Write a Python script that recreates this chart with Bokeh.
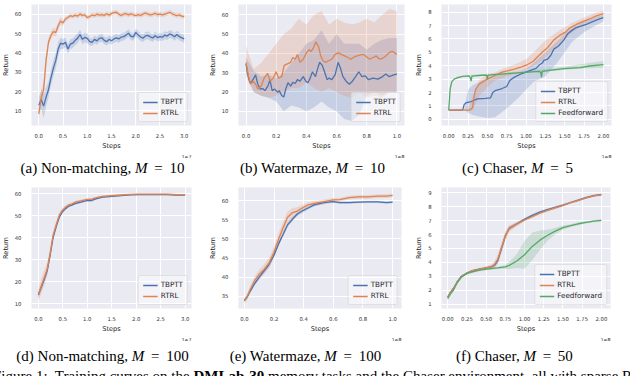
import numpy as np
from bokeh.plotting import figure
from bokeh.layouts import column, row
from bokeh.models import (Div, Legend, LegendItem, FixedTicker, PrintfTickFormatter,
                          Title, Range1d)
from bokeh.embed import file_html
from bokeh.resources import INLINE

# ---------------- data ----------------
# (a) Non-matching, M = 10   (steps in units of 1e7)
a_x = [0.00, 0.05, 0.10, 0.15, 0.20, 0.25, 0.30, 0.35, 0.40, 0.45,
       0.50, 0.55, 0.60, 0.65, 0.70, 0.75, 0.80, 0.85, 0.90, 0.95,
       1.00, 1.05, 1.10, 1.15, 1.20, 1.25, 1.30, 1.35, 1.40, 1.45,
       1.50, 1.55, 1.60, 1.65, 1.70, 1.75, 1.80, 1.85, 1.90, 1.95,
       2.00, 2.05, 2.10, 2.15, 2.20, 2.25, 2.30, 2.35, 2.40, 2.45,
       2.50, 2.55, 2.60, 2.65, 2.70, 2.75, 2.80, 2.85, 2.90, 2.95, 3.00]
a_tbptt = [13.0, 16.0, 12.5, 17.0, 21.0, 27.0, 32.0, 36.0, 42.0, 45.0,
           44.5, 45.5, 42.0, 44.5, 45.0, 46.5, 47.5, 49.5, 47.0, 48.0,
           47.5, 45.8, 45.5, 47.0, 46.2, 47.5, 47.8, 46.5, 45.8, 47.0,
           46.3, 47.2, 47.8, 47.2, 48.2, 48.4, 49.2, 50.2, 48.6, 48.3,
           50.5, 49.3, 48.2, 47.6, 48.8, 49.1, 48.3, 47.7, 48.9, 47.9,
           48.4, 48.1, 49.2, 48.7, 49.8, 49.3, 48.3, 49.5, 48.4, 47.8, 47.2]
a_tbptt_sd = [4.0, 5.0, 6.0, 5.0, 4.0, 4.0, 4.0, 4.0, 3.5, 3.0,
              2.5, 2.5, 2.5, 2.5, 2.5, 2.5, 2.5, 2.5, 2.5, 2.5,
              2.5, 2.0, 2.0, 2.0, 2.0, 2.0, 2.0, 2.0, 2.0, 2.0,
              2.0, 2.0, 2.0, 2.0, 2.0, 2.0, 2.0, 2.0, 2.0, 2.0,
              2.0, 2.0, 2.0, 2.0, 2.0, 2.0, 2.0, 2.0, 2.0, 2.0,
              2.0, 2.0, 2.0, 2.0, 2.0, 2.0, 2.0, 2.0, 2.0, 2.0, 2.0]
a_rtrl = [8.5, 17.0, 21.0, 36.0, 45.5, 49.0, 51.0, 50.5, 54.0, 56.5,
          55.5, 57.5, 58.3, 59.2, 58.8, 59.5, 59.0, 60.0, 59.4, 59.6,
          58.2, 58.8, 59.6, 59.2, 60.0, 59.5, 59.8, 59.4, 60.2, 59.5,
          60.4, 60.8, 61.0, 60.0, 59.3, 60.0, 60.3, 59.6, 60.2, 59.7,
          59.3, 59.8, 59.4, 60.0, 60.5, 60.0, 59.6, 59.9, 60.4, 59.8,
          60.0, 59.6, 60.0, 60.4, 61.0, 60.2, 59.7, 59.3, 59.6, 59.0, 58.8]
a_rtrl_sd = [3.0, 4.0, 4.0, 3.0, 2.0, 2.0, 2.0, 2.0, 2.0, 2.0,
             1.5, 1.2, 1.2, 1.2, 1.2, 1.2, 1.2, 1.2, 1.2, 1.2,
             1.2, 1.2, 1.2, 1.2, 1.2, 1.2, 1.2, 1.2, 1.2, 1.2,
             1.2, 1.2, 1.2, 1.2, 1.2, 1.2, 1.2, 1.2, 1.2, 1.2,
             1.2, 1.2, 1.2, 1.2, 1.2, 1.2, 1.2, 1.2, 1.2, 1.2,
             1.2, 1.2, 1.2, 1.2, 1.2, 1.2, 1.2, 1.2, 1.2, 1.2, 1.2]

# (b) Watermaze, M = 10   (steps in units of 1e8)
b_tbptt_x = [0.0, 0.01, 0.025, 0.04, 0.057, 0.063, 0.078, 0.095, 0.11, 0.126,
             0.147, 0.158, 0.173, 0.19, 0.21, 0.22, 0.236, 0.25, 0.263, 0.278,
             0.295, 0.31, 0.326, 0.34, 0.358, 0.379, 0.396, 0.41, 0.425, 0.44,
             0.46, 0.474, 0.488, 0.505, 0.52, 0.537, 0.55, 0.568, 0.59, 0.61,
             0.627, 0.642, 0.663, 0.684, 0.705, 0.726, 0.747, 0.768, 0.79, 0.81,
             0.842, 0.874, 0.905, 0.926, 0.947, 0.979, 1.0]
b_tbptt = [34.6, 29.7, 24.8, 25.6, 28.0, 28.9, 24.0, 21.5, 21.8, 20.7,
           23.4, 26.4, 20.7, 21.5, 19.8, 20.7, 18.2, 17.4, 21.5, 24.8,
           23.0, 25.0, 24.4, 26.4, 25.6, 28.0, 25.6, 24.8, 27.2, 30.5,
           28.0, 32.0, 35.4, 33.8, 30.5, 26.4, 27.2, 26.4, 28.9, 35.4,
           32.0, 28.0, 25.6, 24.0, 25.6, 28.0, 30.5, 28.0, 28.4, 26.4,
           27.2, 26.7, 28.0, 29.3, 28.0, 28.9, 29.3]
b_rtrl_x = [0.0, 0.017, 0.03, 0.046, 0.063, 0.08, 0.1, 0.12, 0.143, 0.16,
            0.18, 0.2, 0.215, 0.236, 0.253, 0.274, 0.295, 0.31, 0.326, 0.34,
            0.358, 0.379, 0.4, 0.417, 0.43, 0.446, 0.463, 0.48, 0.495, 0.51,
            0.526, 0.547, 0.568, 0.59, 0.61, 0.632, 0.653, 0.674, 0.695, 0.716,
            0.737, 0.758, 0.779, 0.8, 0.82, 0.842, 0.863, 0.884, 0.905, 0.926,
            0.947, 0.968, 1.0]
b_rtrl = [35.4, 28.0, 24.0, 25.6, 24.0, 21.5, 23.0, 27.2, 29.7, 25.6,
          27.2, 30.5, 27.2, 28.0, 33.8, 34.6, 35.4, 37.9, 37.0, 39.5,
          35.4, 37.0, 40.3, 42.0, 41.0, 42.8, 46.0, 43.6, 38.7, 36.2,
          35.4, 36.2, 37.0, 39.5, 40.3, 39.5, 38.7, 37.9, 37.0, 38.2,
          38.7, 39.2, 39.5, 38.2, 37.0, 37.9, 38.7, 37.0, 37.5, 38.7,
          40.3, 41.1, 39.5]
b_band_x = [0.0, 0.05, 0.1, 0.15, 0.2, 0.25, 0.3, 0.35, 0.4, 0.45, 0.5,
            0.55, 0.6, 0.65, 0.7, 0.75, 0.8, 0.85, 0.9, 0.95, 1.0]
b_tbptt_lo = [30, 20, 18, 17, 15, 10, 13, 12, 10, 12, 15, 12, 10, 6, 5, 8, 18, 20, 18, 20, 20]
b_tbptt_hi = [38, 31, 28, 29, 27, 30, 35, 40, 45, 47, 52, 45, 50, 45, 45, 45, 42, 45, 47, 48, 48]
b_rtrl_lo = [28, 20, 18, 17, 18, 20, 22, 22, 25, 22, 20, 22, 20, 18, 17, 20, 17, 18, 17, 20, 20]
b_rtrl_hi = [44, 32, 35, 40, 45, 50, 53, 58, 55, 60, 62, 55, 58, 56, 55, 56, 58, 56, 60, 63, 62]

# (c) Chaser, M = 5   (steps in units of 1e8)
c_tbptt_x = [0.0, 0.18, 0.2, 0.22, 0.29, 0.37, 0.48, 0.54, 0.57, 0.6,
             0.69, 0.75, 0.79, 0.85, 0.94, 1.04, 1.13, 1.17, 1.21, 1.23,
             1.28, 1.32, 1.36, 1.42, 1.49, 1.54, 1.59, 1.65, 1.72, 1.78,
             1.87, 1.95, 2.0]
c_tbptt = [0.69, 0.69, 1.1, 1.22, 1.33, 1.52, 1.56, 1.6, 2.0, 2.14,
           2.3, 2.45, 2.9, 3.15, 3.4, 3.62, 3.8, 4.05, 4.2, 4.4,
           4.5, 4.78, 5.24, 5.47, 5.93, 6.39, 6.62, 6.85, 6.97, 7.08,
           7.31, 7.49, 7.59]
c_rtrl_x = [0.0, 0.27, 0.31, 0.33, 0.35, 0.39, 0.43, 0.48, 0.52, 0.6,
            0.69, 0.77, 0.85, 0.94, 1.02, 1.09, 1.15, 1.21, 1.28, 1.36,
            1.44, 1.51, 1.57, 1.65, 1.74, 1.82, 1.91, 2.0]
c_rtrl = [0.69, 0.69, 0.87, 1.79, 2.25, 2.6, 2.76, 2.94, 3.06, 3.29,
          3.52, 3.63, 3.75, 3.91, 4.09, 4.32, 4.67, 5.01, 5.36, 5.93,
          6.28, 6.51, 6.85, 7.08, 7.31, 7.49, 7.72, 7.89]
c_ff_x = [0.0, 0.01, 0.02, 0.04, 0.07, 0.12, 0.18, 0.26, 0.28, 0.29,
          0.3, 0.43, 0.49, 0.5, 0.51, 0.64, 0.85, 1.07, 1.17, 1.19,
          1.2, 1.21, 1.28, 1.49, 1.7, 1.82, 2.0]
c_ff = [0.69, 1.5, 2.3, 2.8, 3.0, 3.12, 3.2, 3.24, 3.1, 2.85,
        3.22, 3.29, 3.3, 3.0, 3.3, 3.36, 3.45, 3.54, 3.58, 3.5,
        3.15, 3.58, 3.63, 3.79, 3.86, 3.98, 4.09]
c_band_x = [0.0, 0.2, 0.25, 0.3, 0.4, 0.5, 0.6, 0.75, 0.9, 1.0, 1.1,
            1.25, 1.4, 1.5, 1.6, 1.75, 1.9, 2.0]
c_tbptt_lo = [0.69, 0.69, 0.5, 0.35, 0.2, 0.1, 0.15, 0.8, 1.6, 2.2, 2.8,
              3.2, 4.2, 5.0, 5.8, 6.5, 7.0, 7.3]
c_tbptt_hi = [0.69, 0.75, 2.2, 2.5, 2.8, 3.1, 3.3, 3.4, 3.5, 3.8, 4.2,
              5.0, 5.8, 6.4, 6.9, 7.3, 7.6, 7.8]
c_rtrl_lo = [0.69, 0.69, 0.69, 0.6, 1.8, 2.4, 2.9, 3.2, 3.5, 3.7, 4.0,
             4.6, 5.5, 6.0, 6.5, 7.1, 7.5, 7.7]
c_rtrl_hi = [0.69, 0.69, 0.69, 1.5, 3.0, 3.3, 3.5, 3.9, 4.2, 4.5, 5.0,
             5.9, 6.5, 6.9, 7.2, 7.6, 7.95, 8.1]
c_ff_band_x = [0.1, 0.25, 0.5, 0.75, 1.0, 1.25, 1.5, 1.75, 2.0]
c_ff_lo = [3.1, 3.2, 3.25, 3.35, 3.45, 3.55, 3.7, 3.8, 3.85]
c_ff_hi = [3.2, 3.3, 3.4, 3.5, 3.6, 3.75, 3.95, 4.15, 4.35]

# (d) Non-matching, M = 100   (1e7)
d_x = [0.0, 0.05, 0.11, 0.18, 0.24, 0.3, 0.37, 0.43, 0.49, 0.56,
       0.62, 0.68, 0.75, 0.87, 1.0, 1.09, 1.19, 1.31, 1.5, 1.69,
       1.88, 2.07, 2.26, 2.45, 2.64, 2.83, 3.0]
d_tbptt = [14.0, 17.0, 20.5, 25.0, 32.0, 40.0, 45.5, 49.5, 51.8, 53.4,
           54.4, 54.9, 55.6, 56.3, 57.0, 57.0, 57.8, 58.5, 58.9, 59.2,
           59.6, 59.7, 59.7, 59.7, 59.7, 59.4, 59.4]
d_rtrl = [14.3, 17.5, 21.2, 25.7, 32.8, 41.0, 46.3, 50.4, 52.5, 54.0,
          54.9, 55.4, 56.2, 56.8, 57.5, 57.6, 58.3, 58.9, 59.2, 59.5,
          59.8, 59.9, 59.9, 59.9, 59.9, 59.6, 59.5]
d_tbptt_sd = [1.5, 1.5, 1.5, 1.5, 1.2, 1.0, 0.8, 0.8, 0.7, 0.6,
              0.6, 0.5, 0.5, 0.5, 0.5, 0.5, 0.4, 0.4, 0.4, 0.3,
              0.3, 0.3, 0.3, 0.3, 0.3, 0.3, 0.3]
d_rtrl_sd = [3.0, 3.5, 3.5, 3.0, 2.5, 2.0, 1.5, 1.2, 1.0, 1.0,
             0.8, 0.7, 0.6, 0.6, 0.5, 0.5, 0.5, 0.4, 0.4, 0.4,
             0.3, 0.3, 0.3, 0.3, 0.3, 0.3, 0.3]

# (e) Watermaze, M = 100   (1e8)
e_x = [0.0, 0.017, 0.038, 0.07, 0.1, 0.134, 0.166, 0.2, 0.23, 0.26,
       0.29, 0.325, 0.357, 0.39, 0.43, 0.47, 0.537, 0.6, 0.643, 0.707,
       0.77, 0.834, 0.9, 0.96, 1.0]
e_tbptt = [34.0, 34.7, 36.3, 38.4, 40.0, 41.7, 43.3, 45.8, 48.7, 51.1,
           53.6, 55.2, 56.5, 57.3, 58.1, 58.9, 59.5, 59.75, 59.5, 59.5,
           59.6, 59.7, 59.7, 59.5, 59.6]
e_rtrl = [33.8, 34.8, 36.7, 39.2, 40.8, 42.1, 43.7, 46.6, 49.9, 52.8,
          55.6, 56.9, 57.3, 58.1, 58.9, 59.3, 59.75, 60.2, 60.3, 60.8,
          61.0, 61.0, 61.2, 61.2, 61.4]
e_tbptt_sd = [0.6, 0.6, 0.6, 0.6, 0.6, 0.6, 0.6, 0.6, 0.6, 0.6,
              0.6, 0.6, 0.5, 0.5, 0.4, 0.4, 0.4, 0.3, 0.3, 0.3,
              0.3, 0.3, 0.3, 0.3, 0.3]
e_rtrl_sd = [0.6, 0.7, 0.9, 1.0, 1.2, 1.3, 1.4, 1.5, 1.6, 1.6,
             1.5, 1.2, 1.0, 0.8, 0.6, 0.6, 0.5, 0.5, 0.5, 0.5,
             0.5, 0.5, 0.5, 0.5, 0.5]

# (f) Chaser, M = 50   (1e8)
f_x = [0.0, 0.034, 0.077, 0.12, 0.18, 0.247, 0.31, 0.4, 0.48, 0.566,
       0.61, 0.65, 0.7, 0.75, 0.8, 0.9, 1.0, 1.1, 1.2, 1.3,
       1.4, 1.5, 1.6, 1.7, 1.8, 1.9, 2.0]
f_tbptt = [1.5, 1.82, 2.14, 2.57, 3.0, 3.21, 3.38, 3.49, 3.58, 3.68,
           3.8, 4.1, 5.0, 5.9, 6.45, 6.78, 7.1, 7.38, 7.62, 7.8,
           7.96, 8.12, 8.31, 8.48, 8.66, 8.8, 8.88]
f_rtrl = [1.5, 1.82, 2.14, 2.57, 3.0, 3.21, 3.38, 3.49, 3.58, 3.68,
          3.85, 4.2, 5.05, 5.9, 6.43, 6.75, 7.05, 7.3, 7.55, 7.74,
          7.92, 8.1, 8.3, 8.47, 8.64, 8.79, 8.88]
f_ff = [1.39, 1.71, 2.03, 2.5, 2.95, 3.2, 3.3, 3.42, 3.49, 3.55,
        3.58, 3.6, 3.64, 3.68, 3.78, 4.1, 4.55, 5.15, 5.6, 5.95,
        6.25, 6.5, 6.65, 6.78, 6.88, 6.97, 7.03]
f_tbptt_sd = [0.08, 0.08, 0.08, 0.08, 0.08, 0.08, 0.08, 0.08, 0.08, 0.1,
              0.15, 0.2, 0.2, 0.2, 0.15, 0.1, 0.1, 0.1, 0.1, 0.1,
              0.1, 0.08, 0.08, 0.08, 0.08, 0.08, 0.08]
f_rtrl_sd = [0.08, 0.08, 0.08, 0.08, 0.08, 0.08, 0.08, 0.08, 0.1, 0.15,
             0.25, 0.35, 0.4, 0.35, 0.25, 0.15, 0.1, 0.1, 0.1, 0.1,
             0.1, 0.08, 0.08, 0.08, 0.08, 0.08, 0.08]
f_ff_sd = [0.08, 0.08, 0.08, 0.08, 0.08, 0.08, 0.08, 0.08, 0.08, 0.08,
           0.08, 0.08, 0.1, 0.15, 0.25, 0.5, 1.0, 1.0, 0.7, 0.4,
           0.25, 0.15, 0.1, 0.1, 0.08, 0.08, 0.08]

captions = ["(a) Non-matching, <i>M</i>&thinsp; = &thinsp;10",
            "(b) Watermaze, <i>M</i>&thinsp; = &thinsp;10",
            "(c) Chaser, <i>M</i>&thinsp; = &thinsp;5",
            "(d) Non-matching, <i>M</i>&thinsp; = &thinsp;100",
            "(e) Watermaze, <i>M</i>&thinsp; = &thinsp;100",
            "(f) Chaser, <i>M</i>&thinsp; = &thinsp;50"]

# ---------------- styling helpers ----------------
BLUE, ORANGE, GREEN = "#4C72B0", "#DD8452", "#55A868"
TICK_FONT = "DejaVu Sans"


def make_fig(w, h, bl, br, bt, bb, xr, yr, xticks, yticks, xfmt, offset):
    p = figure(width=w, height=h, x_range=Range1d(*xr), y_range=Range1d(*yr),
               output_backend="svg", toolbar_location=None,
               min_border_left=bl, min_border_right=br,
               min_border_top=bt, min_border_bottom=bb)
    p.background_fill_color = "#EAEAF2"
    p.border_fill_color = "white"
    p.outline_line_color = None
    p.grid.grid_line_color = "white"
    p.grid.grid_line_width = 1
    p.xaxis.ticker = FixedTicker(ticks=xticks)
    p.yaxis.ticker = FixedTicker(ticks=yticks)
    p.xgrid.ticker = FixedTicker(ticks=xticks)
    p.ygrid.ticker = FixedTicker(ticks=yticks)
    p.xaxis.formatter = PrintfTickFormatter(format=xfmt)
    p.yaxis.formatter = PrintfTickFormatter(format="%d")
    for ax in (p.xaxis, p.yaxis):
        ax.axis_line_color = None
        ax.major_tick_line_color = None
        ax.minor_tick_line_color = None
        ax.major_label_text_font_size = "5.3px"
        ax.major_label_text_font = TICK_FONT
        ax.major_label_text_color = "#333333"
        ax.axis_label_text_font_size = "6.6px"
        ax.axis_label_text_font = TICK_FONT
        ax.axis_label_text_font_style = "normal"
        ax.axis_label_text_color = "#222222"
    p.xaxis.major_label_standoff = 2
    p.xaxis.axis_label_standoff = 1
    p.yaxis.major_label_standoff = 4
    p.yaxis.axis_label_standoff = 2
    p.xaxis.axis_label = "Steps"
    p.yaxis.axis_label = "Return"
    p.add_layout(Title(text=offset, align="right", text_font_size="5.3px",
                       text_font=TICK_FONT, text_font_style="normal",
                       text_color="#333333", standoff=0), "below")
    return p


def band(p, x, lo, hi, color):
    p.varea(x=x, y1=lo, y2=hi, fill_color=color, fill_alpha=0.22)


def add_legend(p, items):
    leg = Legend(items=[LegendItem(label=l, renderers=[r]) for l, r in items],
                 location="bottom_right")
    leg.label_text_font_size = "7.2px"
    leg.label_text_font = TICK_FONT
    leg.label_text_color = "#262626"
    leg.glyph_width = 15
    leg.glyph_height = 8
    leg.label_height = 8
    leg.label_standoff = 3
    leg.spacing = 2
    leg.padding = 4
    leg.margin = 3
    leg.border_line_color = "#cccccc"
    leg.border_line_width = 1
    leg.background_fill_color = "white"
    leg.background_fill_alpha = 0.45
    if "border_radius" in Legend.properties():
        leg.border_radius = 2
    p.add_layout(leg)


def sd_band(p, x, y, sd, color):
    y = np.array(y)
    sd = np.array(sd)
    band(p, x, y - sd, y + sd, color)


LW = 1.3
ticks_3 = [0, 0.5, 1.0, 1.5, 2.0, 2.5, 3.0]
ticks_1 = [0, 0.2, 0.4, 0.6, 0.8, 1.0]
ticks_2 = [0, 0.25, 0.5, 0.75, 1.0, 1.25, 1.5, 1.75, 2.0]

# (a)
pa = make_fig(207, 156, 21, 14, 2, 26, (-0.15, 3.15), (2.5, 65.0), ticks_3,
              [10, 20, 30, 40, 50, 60], "%.1f", "1e7")
sd_band(pa, a_x, a_tbptt, a_tbptt_sd, BLUE)
sd_band(pa, a_x, a_rtrl, a_rtrl_sd, ORANGE)
ra1 = pa.line(a_x, a_tbptt, line_color=BLUE, line_width=LW)
ra2 = pa.line(a_x, a_rtrl, line_color=ORANGE, line_width=LW)
add_legend(pa, [("TBPTT", ra1), ("RTRL", ra2)])

# (b)
pb = make_fig(207, 156, 26, 8, 2, 26, (-0.05, 1.05), (2.6, 65.4), ticks_1,
              [10, 20, 30, 40, 50, 60], "%.1f", "1e8")
band(pb, b_band_x, b_tbptt_lo, b_tbptt_hi, BLUE)
band(pb, b_band_x, b_rtrl_lo, b_rtrl_hi, ORANGE)
rb1 = pb.line(b_tbptt_x, b_tbptt, line_color=BLUE, line_width=LW)
rb2 = pb.line(b_rtrl_x, b_rtrl, line_color=ORANGE, line_width=LW)
add_legend(pb, [("TBPTT", rb1), ("RTRL", rb2)])

# (c)
pc = make_fig(207, 156, 25, 8, 0, 25, (-0.093, 2.105), (-0.46, 8.57), ticks_2,
              [0, 1, 2, 3, 4, 5, 6, 7, 8], "%.2f", "1e8")
band(pc, c_band_x, c_tbptt_lo, c_tbptt_hi, BLUE)
band(pc, c_band_x, c_rtrl_lo, c_rtrl_hi, ORANGE)
band(pc, c_ff_band_x, c_ff_lo, c_ff_hi, GREEN)
rc1 = pc.line(c_tbptt_x, c_tbptt, line_color=BLUE, line_width=LW)
rc2 = pc.line(c_rtrl_x, c_rtrl, line_color=ORANGE, line_width=LW)
rc3 = pc.line(c_ff_x, c_ff, line_color=GREEN, line_width=LW)
add_legend(pc, [("TBPTT", rc1), ("RTRL", rc2), ("Feedforward", rc3)])

# (d)
pd_ = make_fig(207, 161, 21, 14, 7, 26, (-0.14, 3.13), (7.9, 62.9), ticks_3,
               [10, 20, 30, 40, 50, 60], "%.1f", "1e7")
sd_band(pd_, d_x, d_tbptt, d_tbptt_sd, BLUE)
sd_band(pd_, d_x, d_rtrl, d_rtrl_sd, ORANGE)
rd1 = pd_.line(d_x, d_tbptt, line_color=BLUE, line_width=LW)
rd2 = pd_.line(d_x, d_rtrl, line_color=ORANGE, line_width=LW)
add_legend(pd_, [("TBPTT", rd1), ("RTRL", rd2)])

# (e)
pe = make_fig(207, 161, 23, 11, 7, 26, (-0.04, 1.06), (31.8, 63.45), ticks_1,
              [35, 40, 45, 50, 55, 60], "%.1f", "1e8")
sd_band(pe, e_x, e_tbptt, e_tbptt_sd, BLUE)
sd_band(pe, e_x, e_rtrl, e_rtrl_sd, ORANGE)
re1 = pe.line(e_x, e_tbptt, line_color=BLUE, line_width=LW)
re2 = pe.line(e_x, e_rtrl, line_color=ORANGE, line_width=LW)
add_legend(pe, [("TBPTT", re1), ("RTRL", re2)])

# (f)
pf = make_fig(207, 161, 26, 9, 3, 26, (-0.081, 2.119), (0.68, 9.39), ticks_2,
              [1, 2, 3, 4, 5, 6, 7, 8, 9], "%.2f", "1e8")
sd_band(pf, f_x, f_tbptt, f_tbptt_sd, BLUE)
sd_band(pf, f_x, f_rtrl, f_rtrl_sd, ORANGE)
sd_band(pf, f_x, f_ff, f_ff_sd, GREEN)
rf1 = pf.line(f_x, f_tbptt, line_color=BLUE, line_width=LW)
rf2 = pf.line(f_x, f_rtrl, line_color=ORANGE, line_width=LW)
rf3 = pf.line(f_x, f_ff, line_color=GREEN, line_width=LW)
add_legend(pf, [("TBPTT", rf1), ("RTRL", rf2), ("Feedforward", rf3)])


def cap(text, h, pad_top, shift):
    html = ('<div style="width:207px;text-align:center;font-family:\'Liberation Serif\',serif;'
            'font-size:15px;line-height:17px;color:#000;white-space:nowrap;'
            f'padding-top:{pad_top}px;position:relative;left:{shift}px;">{text}</div>')
    return Div(text=html, width=207, height=h, margin=0)


row1_caps = row(cap(captions[0], 22, 2, 1), cap(captions[1], 22, 2, 4),
                cap(captions[2], 22, 2, 2), spacing=0, margin=0)
row2_caps = row(cap(captions[3], 23, 7, 1), cap(captions[4], 23, 7, -3),
                cap(captions[5], 23, 7, -1), spacing=0, margin=0)

footer = Div(text=('<div style="height:12px;overflow:hidden;width:632px;">'
                   '<div style="font-family:\'Liberation Serif\',serif;font-size:15px;line-height:17px;'
                   'padding-top:4px;position:relative;left:-5px;white-space:nowrap;color:#000;">'
                   'Figure 1:&nbsp; Training curves on the <b>DMLab-30</b> memory tasks and the Chaser '
                   'environment, all with sparse RTRL (Non-matching and Watermaze</div></div>'),
             width=621, height=12, margin=0)

layout = column(row(pa, pb, pc, spacing=0, margin=0), row1_caps,
                row(pd_, pe, pf, spacing=0, margin=0), row2_caps, footer,
                spacing=0, margin=(2, 0, -16, -2))

open("out.html", "w").write(file_html(layout, INLINE))
